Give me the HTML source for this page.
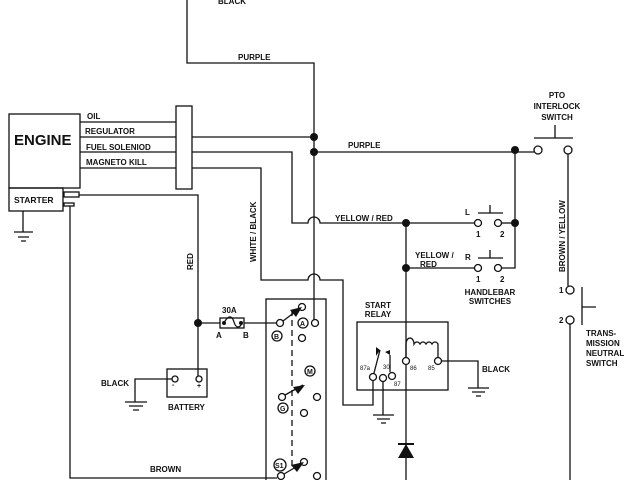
<!DOCTYPE html>
<html><head><style>
body{margin:0;background:#fff}
svg text{font-family:"Liberation Sans",sans-serif;font-weight:bold;font-size:8px;fill:#111}
</style></head><body>
<svg width="640" height="480" viewBox="0 0 640 480" xmlns="http://www.w3.org/2000/svg">
<g fill="none" stroke="#111" stroke-width="1.3">
<rect x="9" y="114" width="71" height="74"/>
<rect x="9" y="188" width="54" height="23"/>
<rect x="64" y="192" width="15" height="5"/>
<rect x="64" y="203" width="10" height="3"/>
<path d="M23 211V232M14 232H33M18 237H29M21 241H26"/>
<rect x="176" y="106" width="16" height="83"/>
<path d="M80 122H176M80 137H176M80 152H176M80 168H176"/>
<path d="M192 137H314"/>
<path d="M192 152H292V223H308A6 6 0 0 1 320 223H478"/>
<path d="M192 168H261V280H308A6 6 0 0 1 320 280H343V405H373V381"/>
<path d="M187 0V63H314V319"/>
<path d="M314 152H534"/>
<circle cx="538" cy="150" r="4" fill="#fff"/>
<circle cx="568" cy="150" r="4" fill="#fff"/>
<path d="M534 138H573M555 125V138"/>
<path d="M568 154V286M570 324V480"/>
<circle cx="570" cy="290" r="4" fill="#fff"/>
<circle cx="570" cy="320" r="4" fill="#fff"/>
<path d="M582 287V325M582 307H596"/>
<path d="M515 150V268H502"/>
<path d="M502 223H515"/>
<circle cx="478" cy="223" r="3.5" fill="#fff"/>
<circle cx="498" cy="223" r="3.5" fill="#fff"/>
<path d="M478 213H503M490 205V213"/>
<path d="M406 268H474"/>
<circle cx="478" cy="268" r="3.5" fill="#fff"/>
<circle cx="498" cy="268" r="3.5" fill="#fff"/>
<path d="M478 258H503M490 250V258"/>
<path d="M406 223V357M406 365V480"/>
<rect x="357" y="322" width="91" height="68"/>
<path d="M406 357V344A4 6 0 0 1 414 344A4 6 0 0 1 420 344A4 6 0 0 1 426 344A4 6 0 0 1 432 344A4 6 0 0 1 438 344V357"/>
<path d="M442 361H478V388M468 388H489M472 392H485M476 396H481"/>
<path d="M383 382V415M373 415H394M377 419H390M381 423H386"/>
<path d="M374 373L380 350M390 372V355"/>
<circle cx="406" cy="361" r="3.5" fill="#fff"/>
<circle cx="438" cy="361" r="3.5" fill="#fff"/>
<circle cx="373" cy="377" r="3.5" fill="#fff"/>
<circle cx="383" cy="378" r="3.5" fill="#fff"/>
<circle cx="392" cy="376" r="3.5" fill="#fff"/>
<path d="M79 195H198V379M198 323H220M244 323H276"/>
<rect x="220" y="318" width="24" height="10"/>
<path d="M224 323C228 315 232 315 234 322S240 328 242 323"/>
<rect x="167" y="369" width="40" height="28"/>
<circle cx="175" cy="379" r="3" fill="#fff"/>
<circle cx="199" cy="379" r="3" fill="#fff"/>
<path d="M172 379H135V402M125 402H147M129 406H143M133 410H139"/>
<path d="M70 206V478H277"/>
<rect x="266" y="299" width="60" height="190"/>
<path d="M292 310V470" stroke-dasharray="6 4"/>
<circle cx="280" cy="323" r="3.5" fill="#fff"/>
<circle cx="302" cy="307" r="3.5" fill="#fff"/>
<circle cx="315" cy="323" r="3.5" fill="#fff"/>
<circle cx="302" cy="338" r="3.5" fill="#fff"/>
<circle cx="282" cy="397" r="3.5" fill="#fff"/>
<circle cx="317" cy="397" r="3.5" fill="#fff"/>
<circle cx="304" cy="413" r="3.5" fill="#fff"/>
<circle cx="281" cy="476" r="3.5" fill="#fff"/>
<circle cx="304" cy="462" r="3.5" fill="#fff"/>
<circle cx="317" cy="476" r="3.5" fill="#fff"/>
<circle cx="277" cy="336" r="5"/>
<circle cx="303" cy="323" r="5"/>
<circle cx="310" cy="371" r="5"/>
<circle cx="283" cy="408" r="5"/>
<circle cx="280" cy="465" r="6"/>
<path d="M283 321L299 309M285 395L303 385M284 474L301 464"/>
</g>
<g fill="#111">
<circle cx="314" cy="137" r="4"/><circle cx="314" cy="152" r="4"/>
<circle cx="515" cy="150" r="4"/><circle cx="515" cy="223" r="4"/>
<circle cx="406" cy="223" r="4"/><circle cx="406" cy="268" r="4"/>
<circle cx="198" cy="323" r="4"/>
<circle cx="224" cy="323" r="2"/><circle cx="241" cy="323" r="2"/>
<path d="M302 307L290 310L296 317Z M305 385L293 387L298 394Z M304 462L291 465L297 472Z"/>
<path d="M398 443H414V445H398Z M406 444L398 458H414Z"/>
<path d="M380 350L376 347V356Z M390 355L385 352L390 350Z"/>
</g>
<text x="14" y="145" style="font-size:15px">ENGINE</text>
<text x="14" y="203" style="font-size:8.5px">STARTER</text>
<text x="87" y="119">OIL</text>
<text x="85" y="134">REGULATOR</text>
<text x="86" y="150">FUEL SOLENIOD</text>
<text x="86" y="165">MAGNETO KILL</text>
<text x="218" y="4">BLACK</text>
<text x="238" y="60">PURPLE</text>
<text x="348" y="148">PURPLE</text>
<text x="335" y="221">YELLOW / RED</text>
<text x="415" y="258">YELLOW /</text>
<text x="420" y="267">RED</text>
<text x="557" y="98" text-anchor="middle">PTO</text>
<text x="557" y="109" text-anchor="middle">INTERLOCK</text>
<text x="557" y="120" text-anchor="middle">SWITCH</text>
<text x="465" y="215">L</text><text x="465" y="260">R</text>
<text x="476" y="237">1</text><text x="500" y="237">2</text>
<text x="476" y="282">1</text><text x="500" y="282">2</text>
<text x="490" y="295" text-anchor="middle">HANDLEBAR</text>
<text x="490" y="304" text-anchor="middle">SWITCHES</text>
<text x="559" y="293">1</text><text x="559" y="323">2</text>
<text x="586" y="336">TRANS-</text>
<text x="586" y="346">MISSION</text>
<text x="586" y="356">NEUTRAL</text>
<text x="586" y="366">SWITCH</text>
<text x="378" y="308" text-anchor="middle">START</text>
<text x="378" y="317" text-anchor="middle">RELAY</text>
<text x="482" y="372">BLACK</text>
<text x="360" y="370" style="font-size:6px;font-weight:normal">87a</text>
<text x="383" y="369" style="font-size:6px;font-weight:normal">30</text>
<text x="394" y="386" style="font-size:6px;font-weight:normal">87</text>
<text x="410" y="370" style="font-size:6px;font-weight:normal">86</text>
<text x="428" y="370" style="font-size:6px;font-weight:normal">85</text>
<text x="222" y="313">30A</text>
<text x="216" y="338">A</text><text x="243" y="338">B</text>
<text x="101" y="386">BLACK</text>
<text x="168" y="410">BATTERY</text>
<text x="172" y="387" style="font-size:7px">-</text><text x="197" y="388" style="font-size:7px">+</text>
<text x="150" y="472">BROWN</text>
<text x="274" y="339" style="font-size:7px">B</text>
<text x="300" y="326" style="font-size:7px">A</text>
<text x="307" y="374" style="font-size:7px">M</text>
<text x="280" y="411" style="font-size:7px">G</text>
<text x="275" y="468" style="font-size:7px">S1</text>
<text transform="translate(193,270) rotate(-90)">RED</text>
<text transform="translate(256,262) rotate(-90)">WHITE / BLACK</text>
<text transform="translate(565,272) rotate(-90)">BROWN / YELLOW</text>
</svg>
</body></html>
